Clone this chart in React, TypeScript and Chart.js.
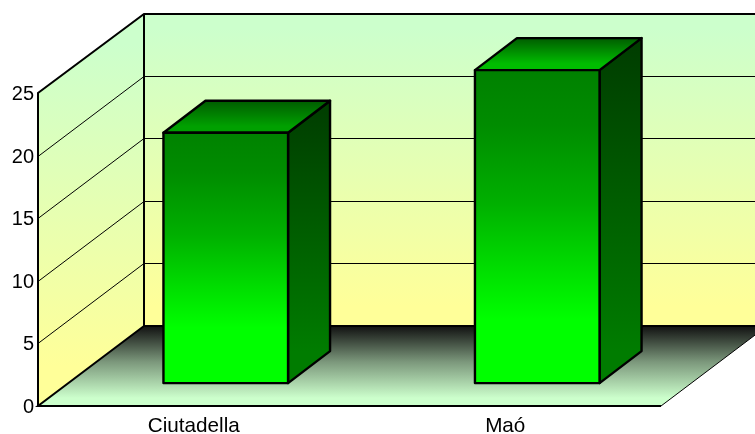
import React, { useEffect, useRef } from "react";
import { Chart, registerables } from "chart.js";

Chart.register(...registerables);

const categories = ["Ciutadella", "Maó"];
const values = [20, 25];
const axisMax = 25;
const axisStep = 5;
const topFacePeak = ["#00A000", "#00BC00"];

const DEPTH_X = 106;
const DEPTH_Y = -80;
const BAR_SHIFT_X = 32;
const BAR_SHIFT_Y = -22.9;
const BAR_DEPTH_X = 42;
const BAR_DEPTH_Y = -32;
const BAR_LINE = 2.4;

function poly(ctx: CanvasRenderingContext2D, pts: number[][]) {
  ctx.beginPath();
  pts.forEach((p, i) => (i ? ctx.lineTo(p[0], p[1]) : ctx.moveTo(p[0], p[1])));
  ctx.closePath();
}

function grad(ctx: CanvasRenderingContext2D, y0: number, y1: number, stops: [number, string][]) {
  const g = ctx.createLinearGradient(0, y0, 0, y1);
  stops.forEach(([o, c]) => g.addColorStop(o, c));
  return g;
}

const scene3d = {
  id: "scene3d",
  beforeDatasetsDraw(chart: any) {
    const { ctx, chartArea: a, scales } = chart;
    const W = chart.width + 40;
    const yS = scales.y;
    const L = a.left, R = a.right, T = a.top, B = a.bottom;
    const bx = L + DEPTH_X, by = B + DEPTH_Y, tY = T + DEPTH_Y + 1;
    ctx.save();
    // back wall
    ctx.fillStyle = grad(ctx, tY + 15, by - 20, [[0, "#CCFFCC"], [1, "#FFFF99"]]);
    ctx.fillRect(bx, tY, W - bx, by - tY);
    // side wall
    ctx.fillStyle = grad(ctx, tY + 30, B - 40, [[0, "#CCFFCC"], [1, "#FFFF99"]]);
    poly(ctx, [[L, T], [bx, tY], [bx, by], [L, B]]);
    ctx.fill();
    // floor
    ctx.fillStyle = grad(ctx, by, B - 8, [[0, "#111111"], [0.5, "#7C987C"], [1, "#CCFFCC"]]);
    poly(ctx, [[L, B], [R, B], [R + DEPTH_X, by], [bx, by]]);
    ctx.fill();
    // grid lines
    ctx.strokeStyle = "#000";
    ctx.lineWidth = 1;
    yS.ticks.forEach((t: any) => {
      if (t.value === 0 || t.value === axisMax) return;
      const y = Math.round(yS.getPixelForValue(t.value)) + 0.5;
      ctx.beginPath();
      ctx.moveTo(L, y);
      ctx.lineTo(bx, y + DEPTH_Y);
      ctx.lineTo(W, y + DEPTH_Y);
      ctx.stroke();
    });
    // outlines
    ctx.lineWidth = 2;
    ctx.beginPath();
    ctx.moveTo(L, B);
    ctx.lineTo(L, T);
    ctx.lineTo(bx, tY);
    ctx.lineTo(W, tY);
    ctx.moveTo(bx, tY);
    ctx.lineTo(bx, by);
    ctx.lineTo(W, by);
    ctx.moveTo(bx, by);
    ctx.lineTo(L, B);
    ctx.lineTo(R, B);
    ctx.stroke();
    ctx.lineWidth = 1;
    ctx.beginPath();
    ctx.moveTo(R, B);
    ctx.lineTo(R + DEPTH_X, by);
    ctx.stroke();
    ctx.restore();
  },
  beforeDatasetDraw(chart: any, args: any) {
    const { ctx } = chart;
    ctx.save();
    ctx.translate(BAR_SHIFT_X, BAR_SHIFT_Y);
    ctx.strokeStyle = "#000";
    ctx.lineWidth = BAR_LINE;
    ctx.lineJoin = "round";
    args.meta.data.forEach((el: any, i: number) => {
      const p = el.getProps(["x", "y", "base", "width"], true);
      const x1 = p.x + p.width / 2, x0 = p.x - p.width / 2;
      const top = p.y, base = p.base;
      ctx.fillStyle = grad(ctx, top + BAR_DEPTH_Y, base + BAR_DEPTH_Y, [[0, "#003C00"], [1, "#007C00"]]);
      poly(ctx, [[x1, top], [x1 + BAR_DEPTH_X, top + BAR_DEPTH_Y], [x1 + BAR_DEPTH_X, base + BAR_DEPTH_Y], [x1, base]]);
      ctx.fill();
      ctx.stroke();
      ctx.fillStyle = grad(ctx, top + BAR_DEPTH_Y, top, [[0, "#005C00"], [0.8, topFacePeak[i]], [1, topFacePeak[i]]]);
      poly(ctx, [[x0, top], [x0 + BAR_DEPTH_X, top + BAR_DEPTH_Y], [x1 + BAR_DEPTH_X, top + BAR_DEPTH_Y], [x1, top]]);
      ctx.fill();
      ctx.stroke();
    });
  },
  afterDatasetDraw(chart: any, args: any) {
    const { ctx } = chart;
    args.meta.data.forEach((el: any) => {
      const p = el.getProps(["x", "y", "base", "width"], true);
      ctx.strokeRect(p.x - p.width / 2, p.y, p.width, p.base - p.y);
    });
    ctx.restore();
  },
};

export default function App() {
  const ref = useRef<HTMLCanvasElement>(null);
  useEffect(() => {
    const chart = new Chart(ref.current!, {
      type: "bar",
      data: {
        labels: categories,
        datasets: [
          {
            data: values,
            clip: false,
            categoryPercentage: 1,
            barPercentage: 0.4,
            borderWidth: 0,
            backgroundColor: (c: any) => {
              if (c.type !== "data") return "#00FF00";
              const y = c.chart.scales.y;
              const y0 = y.getPixelForValue(values[c.dataIndex]);
              const y1 = y.getPixelForValue(0);
              if (!Number.isFinite(y0) || !Number.isFinite(y1)) return "#00FF00";
              return grad(c.chart.ctx, y0 + BAR_SHIFT_Y, y1 + BAR_SHIFT_Y, [
                [0, "#007C00"],
                [0.25, "#008C00"],
                [0.5, "#00B000"],
                [0.7, "#00DC00"],
                [0.87, "#00FF00"],
                [1, "#00FF00"],
              ]);
            },
          } as any,
        ],
      },
      options: {
        responsive: false,
        animation: false,
        layout: { padding: { top: 93, right: 94, left: 0, bottom: 0 } },
        plugins: { legend: { display: false }, tooltip: { enabled: false } },
        scales: {
          x: {
            grid: { display: false },
            border: { display: false },
            ticks: { color: "#000", font: { family: "Liberation Sans", size: 20.7 }, padding: 0, maxRotation: 0 },
            afterFit: (s: any) => { s.height = 28; },
          },
          y: {
            min: 0,
            max: axisMax,
            grid: { display: false, drawTicks: false },
            border: { display: false },
            ticks: { stepSize: axisStep, color: "#000", font: { family: "Liberation Sans", size: 20 }, padding: 4, labelOffset: 1.5 },
            afterFit: (s: any) => { s.width = 38; },
          },
        },
      },
      plugins: [scene3d],
    });
    return () => chart.destroy();
  }, []);
  return (
    <canvas
      ref={ref}
      width={755}
      height={434}
      style={{ position: "absolute", left: 0, top: 0, display: "block" }}
    />
  );
}
